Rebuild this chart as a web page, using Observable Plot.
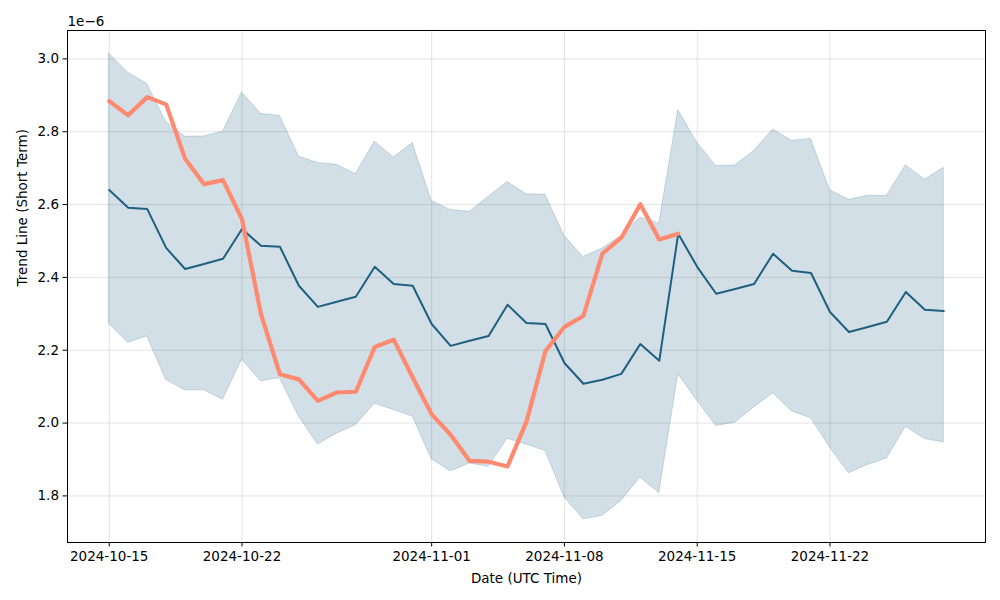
<!DOCTYPE html>
<html>
<head>
<meta charset="utf-8">
<script src="https://cdn.jsdelivr.net/npm/d3@7"></script>
<script src="https://cdn.jsdelivr.net/npm/@observablehq/plot@0.6"></script>
<style>
  html, body { margin: 0; padding: 0; background: #fff; }
  #chart { width: 1000px; height: 600px; }
</style>
</head>
<body>
<div id="chart"></div>
<script>
// ---- Data (values in units of 1e-6) ----
const startDate = "2024-10-15";
const dayCount = 45; // 2024-10-15 .. 2024-11-28, daily

const meanValues = [
  2.640, 2.591, 2.588, 2.481, 2.423, 2.437, 2.451, 2.533, 2.487, 2.484,
  2.377, 2.319, 2.333, 2.347, 2.429, 2.382, 2.377, 2.272, 2.212, 2.226,
  2.239, 2.325, 2.275, 2.272, 2.165, 2.108, 2.119, 2.135, 2.217, 2.171,
  2.520, 2.429, 2.355, 2.368, 2.382, 2.465, 2.418, 2.412, 2.305, 2.250,
  2.264, 2.278, 2.360, 2.311, 2.308
];
const upperValues = [
  3.014, 2.962, 2.931, 2.827, 2.786, 2.787, 2.800, 2.908, 2.849, 2.843,
  2.732, 2.714, 2.709, 2.683, 2.773, 2.729, 2.769, 2.610, 2.585, 2.580,
  2.621, 2.662, 2.628, 2.627, 2.514, 2.456, 2.479, 2.514, 2.564, 2.548,
  2.859, 2.770, 2.706, 2.707, 2.747, 2.806, 2.775, 2.780, 2.639, 2.613,
  2.624, 2.624, 2.708, 2.668, 2.701
];
const lowerValues = [
  2.272, 2.220, 2.238, 2.118, 2.090, 2.090, 2.064, 2.174, 2.115, 2.123,
  2.018, 1.941, 1.971, 1.994, 2.053, 2.036, 2.018, 1.901, 1.867, 1.889,
  1.880, 1.957, 1.941, 1.923, 1.796, 1.736, 1.745, 1.786, 1.850, 1.808,
  2.134, 2.061, 1.992, 2.001, 2.043, 2.082, 2.032, 2.013, 1.933, 1.862,
  1.885, 1.903, 1.990, 1.956, 1.947
];
const actualValues = [
  2.884, 2.845, 2.895, 2.875, 2.726, 2.656, 2.667, 2.560, 2.299, 2.134,
  2.120, 2.061, 2.084, 2.086, 2.209, 2.229, 2.125, 2.024, 1.968, 1.896,
  1.894, 1.881, 2.004, 2.198, 2.264, 2.294, 2.465, 2.509, 2.601, 2.504,
  2.520
];
const xTickLabels = ["2024-10-15", "2024-10-22", "2024-11-01", "2024-11-08", "2024-11-15", "2024-11-22"];
const yTickValues = [1.8, 2.0, 2.2, 2.4, 2.6, 2.8, 3.0];

// ---- Build tables ----
const DAY = 24 * 3600 * 1000;
const t0 = new Date(startDate + "T00:00:00Z");
const dates = d3.range(dayCount).map(i => new Date(+t0 + i * DAY));
const band = dates.map((d, i) => ({date: d, mean: meanValues[i], upper: upperValues[i], lower: lowerValues[i]}));
const actual = actualValues.map((v, i) => ({date: dates[i], value: v}));
const xTicks = xTickLabels.map(s => new Date(s + "T00:00:00Z"));

const pad = (dayCount - 1) * 0.05 * DAY;
const allVals = upperValues.concat(lowerValues, actualValues, meanValues);
const yMin = d3.min(allVals), yMax = d3.max(allVals);
const yPad = (yMax - yMin) * 0.05;

const font = "DejaVu Sans, sans-serif";
const fs = 13.5;

const chart = Plot.plot({
  width: 1000,
  height: 600,
  marginLeft: 67,
  marginRight: 15,
  marginTop: 30,
  marginBottom: 58,
  style: {fontFamily: font, fontSize: fs + "px", background: "#fff", color: "#000"},
  x: {type: "utc", domain: [new Date(+dates[0] - pad), new Date(+dates[dayCount - 1] + pad)]},
  y: {domain: [yMin - yPad, yMax + yPad]},
  marks: [
    Plot.gridX(xTicks, {stroke: "#b0b0b0", strokeOpacity: 0.35, strokeWidth: 1}),
    Plot.gridY(yTickValues, {stroke: "#b0b0b0", strokeOpacity: 0.35, strokeWidth: 1}),
    Plot.areaY(band, {x: "date", y1: "lower", y2: "upper", fill: "#1f5f80", fillOpacity: 0.2, stroke: "#1f5f80", strokeOpacity: 0.2, strokeWidth: 1}),
    Plot.lineY(band, {x: "date", y: "mean", stroke: "#1f5f80", strokeWidth: 2}),
    Plot.lineY(actual, {x: "date", y: "value", stroke: "#ff8a70", strokeWidth: 4.2}),
    Plot.axisX(xTicks, {tickFormat: d3.utcFormat("%Y-%m-%d"), tickSize: 4.5, tickPadding: 4, fontSize: fs, label: null, stroke: "#000"}),
    Plot.axisY(yTickValues, {tickFormat: d3.format(".1f"), tickSize: 4.5, tickPadding: 4, fontSize: fs, label: null, stroke: "#000"}),
    Plot.frame({stroke: "#000", strokeWidth: 1}),
    Plot.text(["1e\u22126"], {frameAnchor: "top-left", dy: -5, textAnchor: "start", lineAnchor: "bottom", fontSize: fs, fill: "#000"}),
    Plot.text(["Date (UTC Time)"], {frameAnchor: "bottom", dy: 36, lineAnchor: "middle", fontSize: fs, fill: "#000"}),
    Plot.text(["Trend Line (Short Term)"], {frameAnchor: "left", dx: -45, rotate: -90, lineAnchor: "middle", fontSize: fs, fill: "#000"})
  ]
});
document.getElementById("chart").appendChild(chart);
</script>
</body>
</html>
